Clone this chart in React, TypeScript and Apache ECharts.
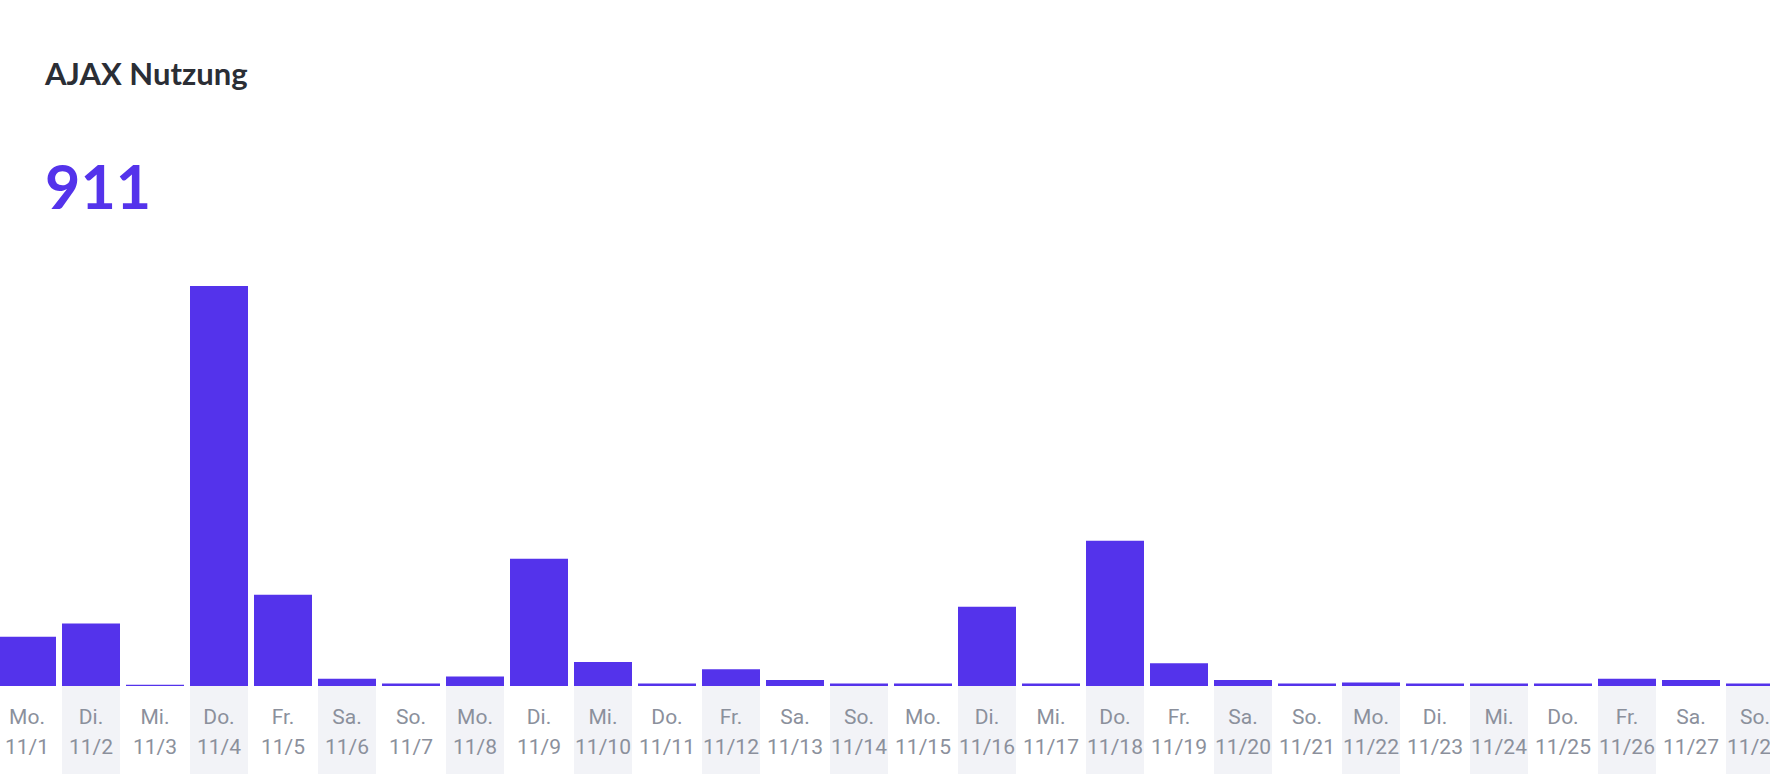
import React, { useEffect, useRef } from "react";
import * as echarts from "echarts";

const weekdays = ["Mo.", "Di.", "Mi.", "Do.", "Fr.", "Sa.", "So.", "Mo.", "Di.", "Mi.", "Do.", "Fr.", "Sa.", "So.", "Mo.", "Di.", "Mi.", "Do.", "Fr.", "Sa.", "So.", "Mo.", "Di.", "Mi.", "Do.", "Fr.", "Sa.", "So."];
const dates = ["11/1", "11/2", "11/3", "11/4", "11/5", "11/6", "11/7", "11/8", "11/9", "11/10", "11/11", "11/12", "11/13", "11/14", "11/15", "11/16", "11/17", "11/18", "11/19", "11/20", "11/21", "11/22", "11/23", "11/24", "11/25", "11/26", "11/27", "11/28"];
const usage = [41, 52, 1, 333, 76, 6, 2, 8, 106, 20, 2, 14, 5, 2, 2, 66, 2, 121, 19, 5, 2, 3, 2, 2, 2, 6, 5, 2];
const stripes = [0, 1, 0, 1, 0, 1, 0, 1, 0, 1, 0, 1, 0, 1, 0, 1, 0, 1, 0, 1, 0, 1, 0, 1, 0, 1, 0, 1];
const title = "AJAX Nutzung";
const total = "911";

export default function App() {
  const ref = useRef<HTMLDivElement>(null);
  useEffect(() => {
    const chart = echarts.init(ref.current!, undefined, { renderer: "svg" });
    const cats = dates.map((d, i) => weekdays[i] + "\n" + d);
    chart.setOption({
      animation: false,
      graphic: [
        {
          type: "text",
          left: 45,
          top: 57,
          style: { text: title, font: "bold 31px Lato", fill: "#2b2e35" },
        },
        {
          type: "text",
          left: 45,
          top: 155,
          style: { text: total, font: "bold 61px Lato", fill: "#5433eb" },
        },
      ],
      grid: [
        { left: -5, width: 1792, top: 286, bottom: 88, containLabel: false, outerBoundsMode: "none" },
        { left: -5, width: 1792, top: 686, bottom: 0, containLabel: false, outerBoundsMode: "none" },
      ],
      xAxis: [
        {
          type: "category",
          gridIndex: 0,
          data: cats,
          z: 5,
          axisLine: { show: false },
          axisTick: { show: false },
          axisLabel: {
            interval: 0,
            margin: 16,
            fontFamily: "Roboto",
            fontSize: 21,
            lineHeight: 30,
            color: "#8b909c",
            hideOverlap: false,
          },
        },
        {
          type: "category",
          gridIndex: 1,
          data: cats,
          show: false,
        },
      ],
      yAxis: [
        { type: "value", gridIndex: 0, min: 0, max: 333, show: false, splitLine: { show: false } },
        { type: "value", gridIndex: 1, min: 0, max: 1, show: false, splitLine: { show: false } },
      ],
      series: [
        {
          type: "bar",
          xAxisIndex: 0,
          yAxisIndex: 0,
          data: usage,
          barCategoryGap: "9.375%",
          itemStyle: { color: "#5433eb" },
          silent: true,
        },
        {
          type: "bar",
          xAxisIndex: 1,
          yAxisIndex: 1,
          data: stripes,
          barCategoryGap: "9.375%",
          itemStyle: { color: "#f2f3f7" },
          z: 0,
          silent: true,
        },
      ],
    });
    return () => chart.dispose();
  }, []);
  return <div ref={ref} style={{ width: 1770, height: 774, position: "absolute", left: 0, top: 0 }} />;
}
